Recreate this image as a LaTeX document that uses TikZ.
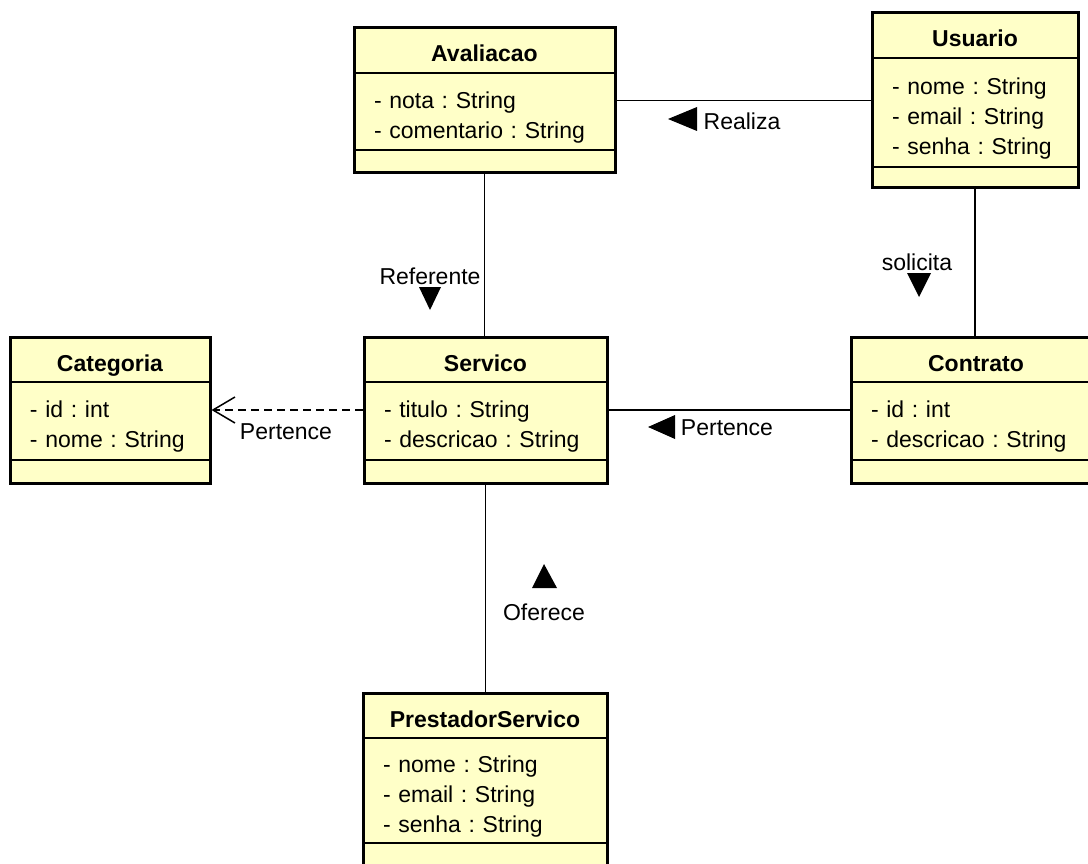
\documentclass[tikz,border=0pt]{standalone}
\usepackage{fontspec}
\setmainfont{Liberation Sans}
\usetikzlibrary{positioning,fit,arrows.meta}
\definecolor{umlfill}{HTML}{FFFFC8}
\frenchspacing

\begin{document}
\begin{tikzpicture}[x=1pt,y=-1pt,
  every node/.style={font=\fontsize{23}{30}\selectfont},
  head/.style={draw, line width=1.5pt, fill=umlfill, minimum height=45pt, inner sep=0pt, outer sep=0pt,
    text height=23pt, text depth=0pt, font=\fontsize{23}{30}\selectfont\bfseries, anchor=north west},
  attrs/.style={draw, line width=1.5pt, fill=umlfill, inner xsep=20pt, inner ysep=0pt, outer sep=0pt, align=left,
    execute at begin node={\rule{0pt}{28pt}}},
  meth/.style={draw, line width=1.5pt, fill=umlfill, inner sep=0pt, outer sep=0pt, minimum height=23pt},
  classbox/.style={draw, line width=3pt, inner sep=0pt},
  assoc/.style={line width=1.5pt},
  depend/.style={line width=1.5pt, dash pattern=on 8pt off 5pt, -{Straight Barb[length=22pt,width=26pt,line width=1.5pt]}},
  lbl/.style={inner sep=0pt}]
  \useasboundingbox (0,0) rectangle (1088,864);
  \clip (0,0) rectangle (1088,864);

  \node[head, minimum width=261pt] (avaH) at (354,28) {Avaliacao};
  \node[attrs, text width=221pt, minimum height=77pt, below=0pt of avaH] (avaA) {- nota : String\\- comentario : String};
  \node[meth, minimum width=261pt, below=0pt of avaA] (avaM) {};
  \node[classbox, fit=(avaH)(avaM)] (ava) {};

  \node[head, minimum width=206pt] (usrH) at (872,13) {Usuario};
  \node[attrs, text width=166pt, minimum height=109pt, below=0pt of usrH] (usrA) {- nome : String\\- email : String\\- senha : String};
  \node[meth, minimum width=206pt, minimum height=21pt, below=0pt of usrA] (usrM) {};
  \node[classbox, fit=(usrH)(usrM)] (usr) {};

  \node[head, minimum width=200pt] (catH) at (10,337) {Categoria};
  \node[attrs, text width=160pt, minimum height=78pt, below=0pt of catH] (catA) {- id : int\\- nome : String};
  \node[meth, minimum width=200pt, below=0pt of catA] (catM) {};
  \node[classbox, fit=(catH)(catM)] (cat) {};

  \node[head, minimum width=243pt] (srvH) at (364,337) {Servico};
  \node[attrs, text width=203pt, minimum height=78pt, below=0pt of srvH] (srvA) {- titulo : String\\- descricao : String};
  \node[meth, minimum width=243pt, below=0pt of srvA] (srvM) {};
  \node[classbox, fit=(srvH)(srvM)] (srv) {};

  \node[head, minimum width=250pt] (ctrH) at (851,337) {Contrato};
  \node[attrs, text width=210pt, minimum height=78pt, below=0pt of ctrH] (ctrA) {- id : int\\- descricao : String};
  \node[meth, minimum width=250pt, below=0pt of ctrA] (ctrM) {};
  \node[classbox, fit=(ctrH)(ctrM)] (ctr) {};

  \node[head, minimum width=244pt] (prsH) at (363,693) {PrestadorServico};
  \node[attrs, text width=204pt, minimum height=105pt, below=0pt of prsH] (prsA) {- nome : String\\- email : String\\- senha : String};
  \node[meth, minimum width=244pt, below=0pt of prsA] (prsM) {};
  \node[classbox, fit=(prsH)(prsM)] (prs) {};

  \draw[assoc] (ava.east) -- (ava.east -| usr.west);
  \draw[assoc] (ava.south) -- (ava.south |- srv.north);
  \draw[assoc] (usr.south) -- (usr.south |- ctr.north);
  \draw[depend] (srv.west) -- (srv.west -| cat.east);
  \draw[assoc] (srv.east) -- (srv.east -| ctr.west);
  \draw[assoc] (srv.south) -- (srv.south |- prs.north);

  \node[lbl] (lRealiza) at (742,121) {Realiza};
  \fill (668,119) -- (697,107) -- (697,131) -- cycle;
  \node[lbl] (lReferente) at (430,276) {Referente};
  \fill (430,310) -- (419,287) -- (441,287) -- cycle;
  \node[lbl] (lSolicita) at (917,262) {solicita};
  \fill (919,297) -- (907,273) -- (931,273) -- cycle;
  \node[lbl] (lPertCat) at (286,432) {Pertence};
  \node[lbl] (lPertCtr) at (727,428) {Pertence};
  \fill (648,427) -- (675,415) -- (675,439) -- cycle;
  \node[lbl] (lOferece) at (544,612) {Oferece};
  \fill (544,564) -- (532,588) -- (557,588) -- cycle;
\end{tikzpicture}
\end{document}
